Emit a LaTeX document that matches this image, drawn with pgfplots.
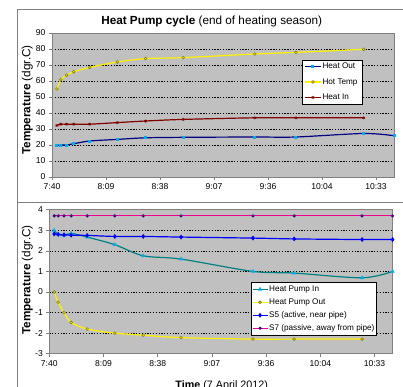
\documentclass[border=0pt]{standalone}
\usepackage{fontspec}
\setmainfont{Liberation Sans}
\newfontfamily\serifp{Liberation Serif}
\usepackage{pgfplots}
\pgfplotsset{compat=1.18}
\definecolor{plotgray}{HTML}{C0C0C0}
\definecolor{navyc}{HTML}{000080}
\definecolor{darkredc}{HTML}{800000}
\definecolor{olivec}{HTML}{808000}
\definecolor{tealc}{HTML}{008080}
\definecolor{framegray}{HTML}{808080}
\definecolor{purplec}{HTML}{400080}
\pgfplotsset{excel/.style={
  scale only axis,
  axis background/.style={fill=plotgray},
  axis line style={framegray, line width=0.7bp},
  xmin=0, xmax=182.4,
  xtick={0,28.8,57.6,86.4,115.2,144,172.8},
  xticklabels={7:40,8:09,8:38,9:07,9:36,10:04,10:33},
  tick align=outside, xtick pos=left, ytick pos=left,
  major tick length=3bp,
  tick style={framegray, line width=0.6bp},
  ymajorgrids,
  grid style={black, line width=0.6bp, dash pattern=on 1.3bp off 1.5bp},
  ticklabel style={font=\fontsize{8.6}{9}\selectfont},
  /pgf/number format/assume math mode=true,
  clip mode=individual,
  legend cell align=left,
  legend image code/.code={\draw[mark repeat=2,mark phase=2] plot coordinates {(0bp,0bp) (7.5bp,0bp) (15bp,0bp)};},
  every axis plot/.append style={line width=1.2bp, smooth, tension=0.5},
}}
\begin{document}
\begin{tikzpicture}
\path[use as bounding box] (0,0) rectangle (403bp,-387bp);
\node[anchor=base west, inner sep=0pt, font=\serifp\fontsize{22}{22}\selectfont\bfseries] at (-1bp,5bp) {p};
% frames
\draw[framegray, line width=0.8bp] (17bp,-387bp) -- (17bp,-9bp) -- (403bp,-9bp);
\draw[framegray, line width=0.8bp] (17bp,-202bp) -- (403bp,-202bp);
% titles
\node[anchor=base, inner sep=0pt, font=\fontsize{11.8}{13}\selectfont] at (211.7bp,-24.3bp) {\textbf{Heat Pump cycle} (end of heating season)};
\node[anchor=base, rotate=90, inner sep=0pt, font=\fontsize{11.8}{13}\selectfont] at (30.3bp,-100bp) {\textbf{Temperature} (dgr.C)};
\node[anchor=base, rotate=90, inner sep=0pt, font=\fontsize{11.8}{13}\selectfont] at (30.3bp,-280bp) {\textbf{Temperature} (dgr.C)};
\node[anchor=base, inner sep=0pt, font=\fontsize{10.8}{12}\selectfont] at (221.7bp,-388.7bp) {\textbf{Time} (7 April 2012)};
% top axis
\begin{axis}[excel, at={(52bp,-177bp)}, anchor=south west, width=342bp, height=144bp,
  ymin=0, ymax=90, ytick={0,10,...,90},
  legend style={at={(0.73,0.8125)}, anchor=north west, draw=black, fill=white,
    font=\fontsize{8.2}{9}\selectfont, row sep=6bp, inner xsep=3bp, inner ysep=1.5bp,
    nodes={inner xsep=1.5bp, inner ysep=1bp, text height=6bp, text depth=1.5bp}},
]
\addplot[navyc, mark=square*, mark size=0.9bp, mark options={cyan, fill=cyan}] coordinates {
(2.6,19.8) (4.7,20) (7.8,20) (11.6,20.8) (20.1,22.5) (34.8,23.5) (49.9,24.5) (70,24.8) (108.2,25) (130.1,25) (166.2,27.2) (182.4,25.8)};
\addlegendentry{Heat Out}
\addplot[yellow, mark=*, mark size=1.4bp, mark options={draw=olivec, fill=yellow, line width=0.6bp}] coordinates {
(2.6,55) (4.7,60.8) (7.8,63.7) (11.6,65.8) (20.1,68.5) (34.8,71.9) (49.9,74) (70,74.6) (108.2,76.9) (130.1,77.9) (166.2,79.8)};
\addlegendentry{Hot Temp}
\addplot[darkredc, mark=asterisk, mark size=1.5bp, mark options={darkredc, line width=0.7bp}] coordinates {
(2.6,32.2) (4.7,33) (7.8,33) (11.6,33) (20.1,33) (34.8,34) (49.9,35) (70,36) (108.2,37) (130.1,37) (166.2,37)};
\addlegendentry{Heat In}
\end{axis}
% bottom axis
\begin{axis}[excel, at={(49.3bp,-353.7bp)}, anchor=south west, width=343.3bp, height=144bp,
  ymin=-3, ymax=4, ytick={-3,-2,...,4},
  legend style={at={(0.5867,0.4958)}, anchor=north west, draw=black, fill=white,
    font=\fontsize{8.2}{9}\selectfont, row sep=3.5bp, inner xsep=1bp, inner ysep=2bp,
    nodes={inner xsep=1bp, inner ysep=1bp, text height=6bp, text depth=1.5bp}},
]
\addplot[tealc, mark=triangle*, mark size=1.3bp, mark options={cyan, fill=cyan}] coordinates {
(2.6,3.0) (4.7,2.8) (7.8,2.75) (11.6,2.85) (20.1,2.67) (34.8,2.3) (49.9,1.76) (70,1.6) (108.2,1.0) (130.1,0.92) (166.2,0.69) (182.4,1.0)};
\addlegendentry{Heat Pump In}
\addplot[yellow, mark=*, mark size=1.4bp, mark options={draw=olivec, fill=yellow, line width=0.6bp}] coordinates {
(2.6,0) (4.7,-0.5) (7.8,-1.0) (11.6,-1.48) (20.1,-1.8) (34.8,-2.0) (49.9,-2.1) (70,-2.22) (108.2,-2.29) (130.1,-2.29) (166.2,-2.29)};
\addlegendentry{Heat Pump Out}
\addplot[blue, mark=diamond*, mark size=1.5bp, mark options={blue, fill=blue}] coordinates {
(2.6,2.82) (4.7,2.8) (7.8,2.78) (11.6,2.76) (20.1,2.75) (34.8,2.7) (49.9,2.7) (70,2.67) (108.2,2.62) (130.1,2.58) (166.2,2.55) (182.4,2.55)};
\addlegendentry{S5 (active, near pipe)}
\addplot[magenta, mark=*, mark size=0.9bp, mark options={purplec, fill=purplec}] coordinates {
(2.6,3.7) (4.7,3.7) (7.8,3.7) (11.6,3.7) (20.1,3.7) (34.8,3.7) (49.9,3.7) (70,3.7) (108.2,3.7) (130.1,3.7) (166.2,3.7) (182.4,3.7)};
\addlegendentry{S7 (passive, away from pipe)}
\end{axis}
\end{tikzpicture}
\end{document}
